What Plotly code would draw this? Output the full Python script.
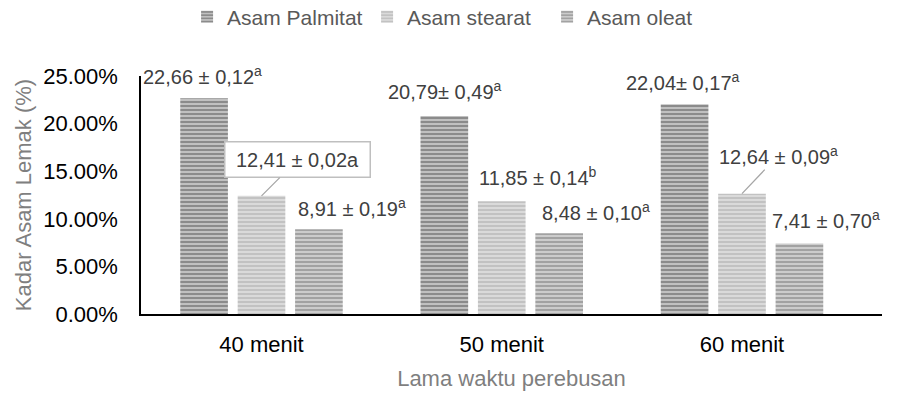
import plotly.graph_objects as go

# Data: fatty acid content (%) by boiling time
categories = ["40 menit", "50 menit", "60 menit"]
series_names = ["Asam Palmitat", "Asam stearat", "Asam oleat"]
palmitat = [22.66, 20.79, 22.04]
stearat = [12.41, 11.85, 12.64]
oleat = [8.91, 8.48, 7.41]

palmitat_labels = ["22,66 ± 0,12<sup>a</sup>", "20,79± 0,49<sup>a</sup>", "22,04± 0,17<sup>a</sup>"]
stearat_labels = ["12,41 ± 0,02a", "11,85 ± 0,14<sup>b</sup>", "12,64 ± 0,09<sup>a</sup>"]
oleat_labels = ["8,91 ± 0,19<sup>a</sup>", "8,48 ± 0,10<sup>a</sup>", "7,41 ± 0,70<sup>a</sup>"]

FONT = "Liberation Sans, Arial, sans-serif"

# stripe fills (foreground line colour, background colour)
fills = [("#555555", "#c0c0c0"), ("#a9a9a9", "#dadada"), ("#777777", "#cccccc")]

fig = go.Figure()
for name, vals, (fg, bg) in zip(series_names, [palmitat, stearat, oleat], fills):
    fig.add_trace(go.Bar(
        name=name,
        x=categories,
        y=[v / 100 for v in vals],
        marker=dict(
            color=bg,
            line=dict(width=0),
            pattern=dict(shape="-", fgcolor=fg, bgcolor=bg, size=4, solidity=0.5, fillmode="overlay"),
        ),
    ))

# pixel offsets of each series' bar centre from its category centre
bar_offset = [-59, 0, 59]

# label placement: (dx, dy) of label centre from bar top, in pixels; arrow flag; boxed flag
placement = [
    [(0, -23, False, False), (2, -26, False, False), (0, -23, False, False)],
    [(36, -36, True, True), (36, -25, False, False), (36, -38, True, False)],
    [(31, -22, False, False), (35, -22, False, False), (25, -24, False, False)],
]

annotations = []
for s, (vals, labels) in enumerate(zip([palmitat, stearat, oleat],
                                       [palmitat_labels, stearat_labels, oleat_labels])):
    for i, cat in enumerate(categories):
        dx, dy, arrow, boxed = placement[s][i]
        ann = dict(
            x=cat, y=vals[i] / 100, xref="x", yref="y",
            text=labels[i],
            font=dict(family=FONT, size=20, color="#404040"),
        )
        if arrow:
            ann.update(showarrow=True, arrowhead=0, arrowwidth=1.3, arrowcolor="#a6a6a6",
                       xshift=bar_offset[s], ax=dx, ay=dy)
        else:
            ann.update(showarrow=False, xshift=bar_offset[s] + dx, yshift=-dy)
        if boxed:
            ann.update(bordercolor="#bfbfbf", borderwidth=1.5, bgcolor="white",
                       width=140, height=30, borderpad=2)
        annotations.append(ann)

fig.update_layout(
    width=898, height=398,
    margin=dict(l=141, r=16, t=76, b=84, pad=0),
    paper_bgcolor="white", plot_bgcolor="white",
    barmode="group", bargap=0.283, bargroupgap=0.17,
    font=dict(family=FONT, size=22, color="#000000"),
    legend=dict(
        orientation="h", xref="container", yref="container",
        x=0.509, xanchor="center", y=0.957, yanchor="middle",
        font=dict(family=FONT, size=21, color="#595959"),
        entrywidth=135, entrywidthmode="pixels",
        bgcolor="rgba(0,0,0,0)",
    ),
    xaxis=dict(
        automargin=False,
        showline=True, linecolor="#000000", linewidth=1.5,
        showgrid=False, ticks="", tickfont=dict(size=22, color="#000000"),
        ticklabelstandoff=10,
        title=dict(text="Lama waktu perebusan", font=dict(size=22, color="#7f7f7f"), standoff=14),
    ),
    yaxis=dict(
        automargin=False,
        range=[0, 0.25], dtick=0.05, tickformat=".2%",
        showline=True, linecolor="#000000", linewidth=1.5,
        showgrid=False, zeroline=False, ticks="",
        tickfont=dict(size=22, color="#000000"),
        ticklabelstandoff=17,
        title=dict(text="Kadar Asam Lemak (%)", font=dict(size=22, color="#7f7f7f"), standoff=6),
    ),
    annotations=annotations,
)

fig.write_html("out.html")
